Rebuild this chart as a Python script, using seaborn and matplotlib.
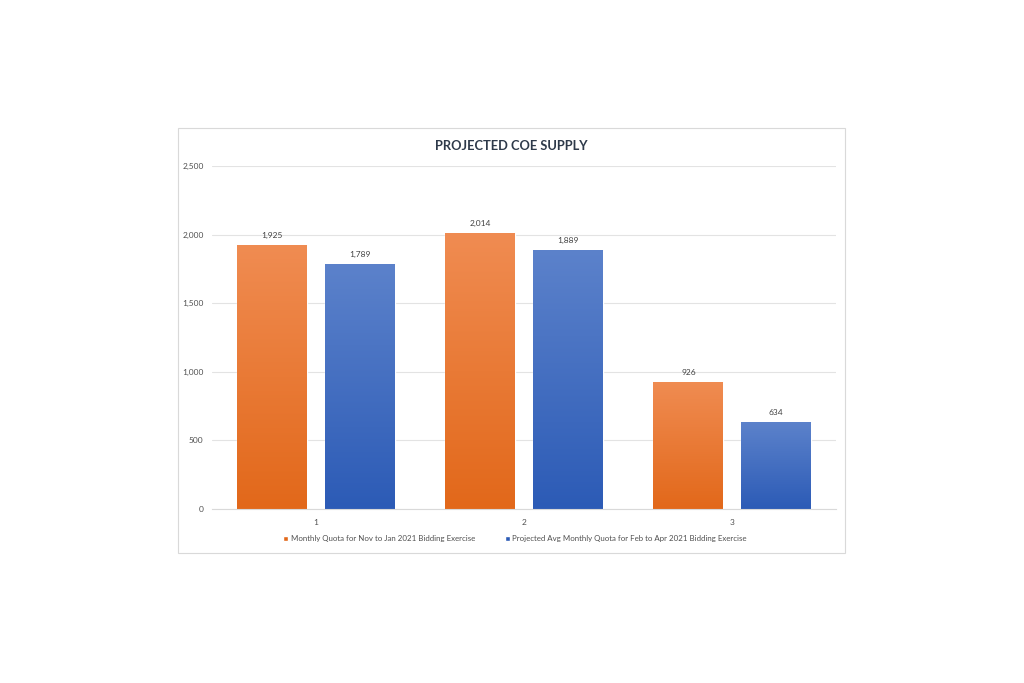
import numpy as np
import pandas as pd
import matplotlib
matplotlib.use("Agg")
import matplotlib.pyplot as plt
import seaborn as sns
from matplotlib.colors import LinearSegmentedColormap
from matplotlib.patches import Rectangle
from matplotlib.ticker import FuncFormatter

categories = ["1", "2", "3"]
series_names = ["Monthly Quota for Nov to Jan 2021 Bidding Exercise",
                "Projected Avg Monthly Quota for Feb to Apr 2021 Bidding Exercise"]
quota_nov_jan = [1925, 2014, 926]
quota_feb_apr = [1789, 1889, 634]
title = "PROJECTED COE SUPPLY"

df = pd.DataFrame({
    "cat": categories * 2,
    "series": [series_names[0]] * 3 + [series_names[1]] * 3,
    "value": quota_nov_jan + quota_feb_apr,
})

sns.set_theme(style="white")
plt.rcParams["font.family"] = ["Lato", "DejaVu Sans"]

fig = plt.figure(figsize=(10.24, 6.83), dpi=100)
fig.patch.set_facecolor("white")

# chart border
fig.patches.append(Rectangle((178 / 1024, 1 - 553 / 683), 667 / 1024, 425 / 683,
                             transform=fig.transFigure, fill=False,
                             edgecolor="#D9D9D9", linewidth=0.8))

ax = fig.add_axes([212 / 1024, 1 - 509 / 683, 624 / 1024, (509 - 166) / 683])

top_cols = ["#F08C52", "#5C82CB"]
bot_cols = ["#E2681A", "#2C5BB6"]
sns.barplot(data=df, x="cat", y="value", hue="series", ax=ax,
            palette=[bot_cols[0], bot_cols[1]], width=0.84, gap=0.2,
            legend=True, saturation=1)

# gradient fill
for i, cont in enumerate(ax.containers):
    cmap = LinearSegmentedColormap.from_list("g", [bot_cols[i], top_cols[i]])
    for bar in cont:
        x0, y0 = bar.get_x(), bar.get_y()
        w, h = bar.get_width(), bar.get_height()
        grad = np.linspace(0, 1, 256).reshape(-1, 1)
        im = ax.imshow(grad, cmap=cmap, origin="lower", aspect="auto",
                       extent=(x0, x0 + w, y0, y0 + h), zorder=bar.get_zorder() + 0.1)
        im.set_clip_path(bar)
    ax.bar_label(cont, labels=[f"{v:,.0f}" for v in cont.datavalues],
                 padding=4, fontsize=6.0, color="#404040")

ax.set_xlim(-0.5, 2.5)
ax.set_ylim(0, 2500)
ax.set_yticks([0, 500, 1000, 1500, 2000, 2500])
ax.yaxis.set_major_formatter(FuncFormatter(lambda v, p: f"{v:,.0f}"))
ax.grid(axis="y", color="#E3E3E3", linewidth=0.8)
ax.set_axisbelow(True)
for s in ["top", "right", "left"]:
    ax.spines[s].set_visible(False)
ax.spines["bottom"].set_color("#D9D9D9")
ax.spines["bottom"].set_linewidth(0.8)
ax.tick_params(axis="both", length=0, labelsize=6.0, labelcolor="#505050")
ax.tick_params(axis="y", pad=6)
ax.tick_params(axis="x", pad=7)
ax.set_xlabel("")
ax.set_ylabel("")

fig.text(511 / 1024, 1 - 146 / 683, title, ha="center", va="center",
         fontsize=9.3, fontweight="bold", color="#2E3A4A")

handles, labels = ax.get_legend_handles_labels()
ax.legend_.remove()
fig.legend(handles, labels, loc="center", bbox_to_anchor=(515 / 1024, 1 - 539 / 683),
           ncol=2, frameon=False, fontsize=5.7, handlelength=0.6, handleheight=0.6,
           handletextpad=0.3, columnspacing=3.8, labelcolor="#505050")

fig.savefig("out.png", dpi=100, facecolor="white")
